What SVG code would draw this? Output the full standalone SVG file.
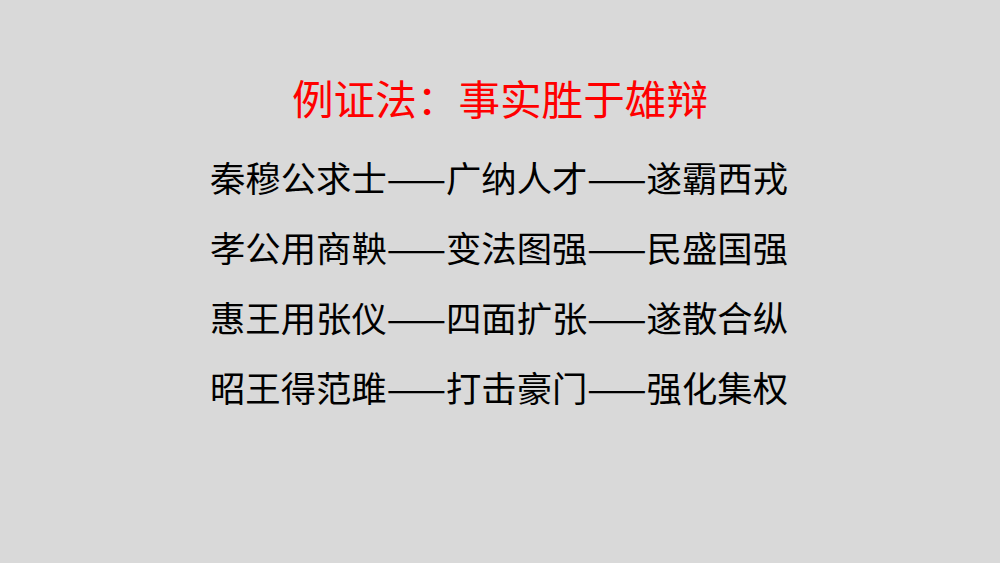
<svg xmlns="http://www.w3.org/2000/svg" width="1000" height="563" viewBox="0 0 1000 563">
<style>
text{font-family:"Noto Sans CJK SC","Noto Sans",sans-serif;text-anchor:middle}
.t{fill:#ff0000;font-size:41px}
.r{fill:#000;font-size:35px}
</style>
<rect width="1000" height="563" fill="#d9d9d9"/>
<g id="title"><text class="t" x="500" y="115" textLength="416" lengthAdjust="spacingAndGlyphs">例证法：事实胜于雄辩</text></g>
<g id="row1"><text class="r" x="499" y="192" textLength="578" lengthAdjust="spacingAndGlyphs">秦穆公求士——广纳人才——遂霸西戎</text></g>
<g id="row2"><text class="r" x="499" y="262" textLength="578" lengthAdjust="spacingAndGlyphs">孝公用商鞅——变法图强——民盛国强</text></g>
<g id="row3"><text class="r" x="499" y="332" textLength="578" lengthAdjust="spacingAndGlyphs">惠王用张仪——四面扩张——遂散合纵</text></g>
<g id="row4"><text class="r" x="499" y="402" textLength="578" lengthAdjust="spacingAndGlyphs">昭王得范雎——打击豪门——强化集权</text></g>
<g id="connectors"/>
</svg>
